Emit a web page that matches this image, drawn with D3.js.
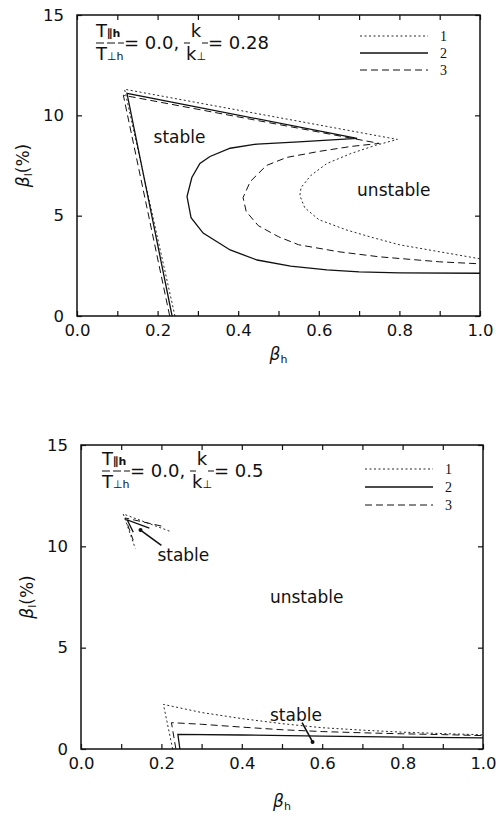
<!DOCTYPE html>
<html><head><meta charset="utf-8">
<script src="https://cdn.jsdelivr.net/npm/d3@7"></script>
<style>body{margin:0;background:#fff}svg{display:block}text{font-family:"DejaVu Sans",sans-serif;fill:#111}</style>
</head><body><svg id="c" width="496" height="823"></svg>
<script>
// ---- data ----
const xTickValues = [0,0.1,0.2,0.3,0.4,0.5,0.6,0.7,0.8,0.9,1.0];
const xTickLabels = ["0.0","0.2","0.4","0.6","0.8","1.0"];
const yTickValues = [0,5,10,15];
const seriesNames = ["1","2","3"];

// top panel (k/k⊥ = 0.28)
const top1 = [[0.243,0],[0.118,11.3],[0.795,8.8],[0.74,8.5],[0.68,8.1],[0.62,7.6],[0.58,7.0],[0.556,6.4],[0.553,6.0],[0.565,5.4],[0.6,4.8],[0.67,4.28],[0.735,3.9],[0.8,3.55],[0.9,3.2],[1.0,2.85]];
const top2 = [[0.236,0],[0.124,11.1],[0.695,8.85],[0.55,8.68],[0.447,8.57],[0.38,8.36],[0.33,7.95],[0.305,7.6],[0.285,6.9],[0.273,5.95],[0.283,4.9],[0.313,4.13],[0.38,3.29],[0.447,2.79],[0.53,2.49],[0.62,2.3],[0.7,2.2],[0.8,2.15],[1.0,2.13]];
const top3 = [[0.23,0],[0.115,11.0],[0.75,8.6],[0.68,8.45],[0.6,8.2],[0.52,7.9],[0.47,7.5],[0.43,6.7],[0.412,5.9],[0.42,5.2],[0.45,4.5],[0.5,3.95],[0.55,3.55],[0.65,3.2],[0.75,2.95],[0.9,2.7],[1.0,2.6]];

// bottom panel (k/k⊥ = 0.5)
const bot1a = [[0.22,10.75],[0.105,11.6],[0.135,9.9]];
const bot1b = [[0.228,0],[0.205,2.2],[0.3,1.8],[0.4,1.5],[0.5,1.25],[0.6,1.05],[0.7,0.93],[0.8,0.83],[0.9,0.76],[1.0,0.7]];
const bot2a = [[0.17,10.9],[0.115,11.3],[0.13,10.7]];
const bot2b = [[0.246,0],[0.241,0.72],[0.4,0.69],[0.6,0.64],[0.8,0.59],[1.0,0.55]];
const bot3a = [[0.2,11.0],[0.11,11.4],[0.13,10.3]];
const bot3b = [[0.236,0],[0.225,1.3],[0.3,1.22],[0.4,1.08],[0.5,0.95],[0.6,0.86],[0.7,0.8],[0.8,0.75],[0.9,0.71],[1.0,0.66]];

const styles = {
  "1": {w:0.9, dash:"2,2.5"},
  "2": {w:1.3, dash:null},
  "3": {w:1.0, dash:"7,4"}
};

const svg = d3.select("#c");

function panel(o){
  const x = d3.scaleLinear().domain([0,1]).range([o.left,o.right]);
  const y = d3.scaleLinear().domain([0,15]).range([o.bottom,o.top]);
  const g = svg.append("g");
  g.append("rect").attr("x",o.left).attr("y",o.top).attr("width",o.right-o.left).attr("height",o.bottom-o.top)
   .attr("fill","none").attr("stroke","#111").attr("stroke-width",1.5);
  const ax = d3.axisBottom(x).tickValues(xTickValues).tickSize(-5).tickFormat(d=>{
    const s=d3.format(".1f")(d); return xTickLabels.includes(s)?s:"";});
  const gx=g.append("g").attr("transform",`translate(0,${o.bottom})`).call(ax);
  gx.select(".domain").remove();
  gx.selectAll("line").attr("stroke","#111").attr("stroke-width",1.2);
  gx.selectAll("text").attr("font-size",16.5).attr("dy","1.05em").style("font-family","DejaVu Sans");
  const axT = d3.axisTop(x).tickValues(xTickValues).tickSize(-5).tickFormat("");
  const gxt=g.append("g").attr("transform",`translate(0,${o.top})`).call(axT);
  gxt.select(".domain").remove(); gxt.selectAll("line").attr("stroke","#111").attr("stroke-width",1.2);
  const ay = d3.axisLeft(y).tickValues(yTickValues).tickSize(-5).tickPadding(13).tickFormat(d3.format("d"));
  const gy=g.append("g").attr("transform",`translate(${o.left},0)`).call(ay);
  gy.select(".domain").remove(); gy.selectAll("line").attr("stroke","#111").attr("stroke-width",1.2);
  gy.selectAll("text").attr("font-size",16.5).style("font-family","DejaVu Sans");
  const ayr = d3.axisRight(y).tickValues(yTickValues).tickSize(-5).tickFormat("");
  const gyr=g.append("g").attr("transform",`translate(${o.right},0)`).call(ayr);
  gyr.select(".domain").remove(); gyr.selectAll("line").attr("stroke","#111").attr("stroke-width",1.2);

  const line = d3.line().x(d=>x(d[0])).y(d=>y(d[1]));
  o.curves.forEach(c=>{
    const s=styles[c.name];
    g.append("path").attr("d",line(c.data)).attr("fill","none").attr("stroke","#111")
     .attr("stroke-width",s.w).attr("stroke-dasharray",s.dash);
  });

  const xl = g.append("text").attr("x",(o.left+o.right)/2).attr("y",o.bottom+o.xlabDy)
    .attr("text-anchor","middle").attr("font-size",17).attr("font-style","italic");
  xl.append("tspan").text("β");
  xl.append("tspan").attr("font-size",11).attr("dy",3).attr("font-style","normal").text("h");
  const yl = g.append("text").attr("transform",`translate(${o.left-48},${(o.top+o.bottom)/2}) rotate(-90)`)
    .attr("text-anchor","middle").attr("font-size",17);
  yl.append("tspan").attr("font-style","italic").text("β");
  yl.append("tspan").attr("font-size",11).attr("dy",3).text("l");
  yl.append("tspan").attr("dy",-3).text("(%)");

  const ax0=o.left+o.annX, ay0=o.top+o.annY;
  const fs=18;
  const num=g.append("text").attr("x",ax0).attr("y",ay0-9).attr("font-size",fs);
  num.append("tspan").text("T"); num.append("tspan").attr("font-size",11).attr("font-weight","bold").text("∥h");
  g.append("line").attr("x1",ax0).attr("x2",ax0+28).attr("y1",ay0-3).attr("y2",ay0-3)
    .attr("stroke","#111").attr("stroke-width",1.2).attr("stroke-dasharray","8,3");
  const den=g.append("text").attr("x",ax0).attr("y",ay0+14).attr("font-size",fs);
  den.append("tspan").text("T"); den.append("tspan").attr("font-size",11).text("⊥h");
  g.append("text").attr("x",ax0+28).attr("y",ay0+3).attr("font-size",fs).text("= 0.0,");
  const kx=ax0+88;
  g.append("line").attr("x1",kx).attr("x2",kx+24).attr("y1",ay0-3).attr("y2",ay0-3)
    .attr("stroke","#111").attr("stroke-width",1.2).attr("stroke-dasharray","6,12,6");
  g.append("text").attr("x",kx+12).attr("y",ay0-9).attr("font-size",fs).attr("text-anchor","middle").text("k");
  const kd=g.append("text").attr("x",kx+12).attr("y",ay0+14).attr("font-size",fs).attr("text-anchor","middle");
  kd.append("tspan").text("k"); kd.append("tspan").attr("font-size",11).text("⊥");
  g.append("text").attr("x",kx+24).attr("y",ay0+3).attr("font-size",fs).text("= "+o.kval);

  seriesNames.forEach((n,i)=>{
    const s=styles[n]; const ly=o.top+o.legY+i*o.legStep;
    g.append("line").attr("x1",o.legX).attr("x2",o.legX+68).attr("y1",ly).attr("y2",ly)
      .attr("stroke","#111").attr("stroke-width",s.w).attr("stroke-dasharray",s.dash);
    g.append("text").attr("x",o.legX+80).attr("y",ly+5).attr("font-size",14)
      .style("font-family","Liberation Serif").text(n);
  });

  o.labels.forEach(l=>{
    g.append("text").attr("x",x(l.x)).attr("y",y(l.y)).attr("font-size",17).text(l.t);
  });
  (o.arrows||[]).forEach(a=>{
    g.append("line").attr("x1",x(a[0][0])).attr("y1",y(a[0][1])).attr("x2",x(a[1][0])).attr("y2",y(a[1][1]))
      .attr("stroke","#111").attr("stroke-width",1.6);
    g.append("circle").attr("cx",x(a[1][0])).attr("cy",y(a[1][1])).attr("r",2).attr("fill","#111");
  });
}

panel({left:77,right:480,top:15,bottom:316,xlabDy:44,annX:19,annY:31,kval:"0.28",legX:360,legY:21,legStep:17,
  curves:[{name:"1",data:top1},{name:"2",data:top2},{name:"3",data:top3}],
  labels:[{t:"stable",x:0.19,y:8.6},{t:"unstable",x:0.695,y:6.0}]});

panel({left:81,right:483,top:445,bottom:749,xlabDy:58,annX:21,annY:29,kval:"0.5",legX:365,legY:24,legStep:18,
  curves:[{name:"1",data:bot1a},{name:"1",data:bot1b},{name:"2",data:bot2a},{name:"2",data:bot2b},{name:"3",data:bot3a},{name:"3",data:bot3b}],
  labels:[{t:"stable",x:0.19,y:9.3},{t:"unstable",x:0.47,y:7.2},{t:"stable",x:0.47,y:1.4}],
  arrows:[[[0.2,10.05],[0.148,10.8]],[[0.55,1.3],[0.576,0.35]]]});
</script></body></html>
